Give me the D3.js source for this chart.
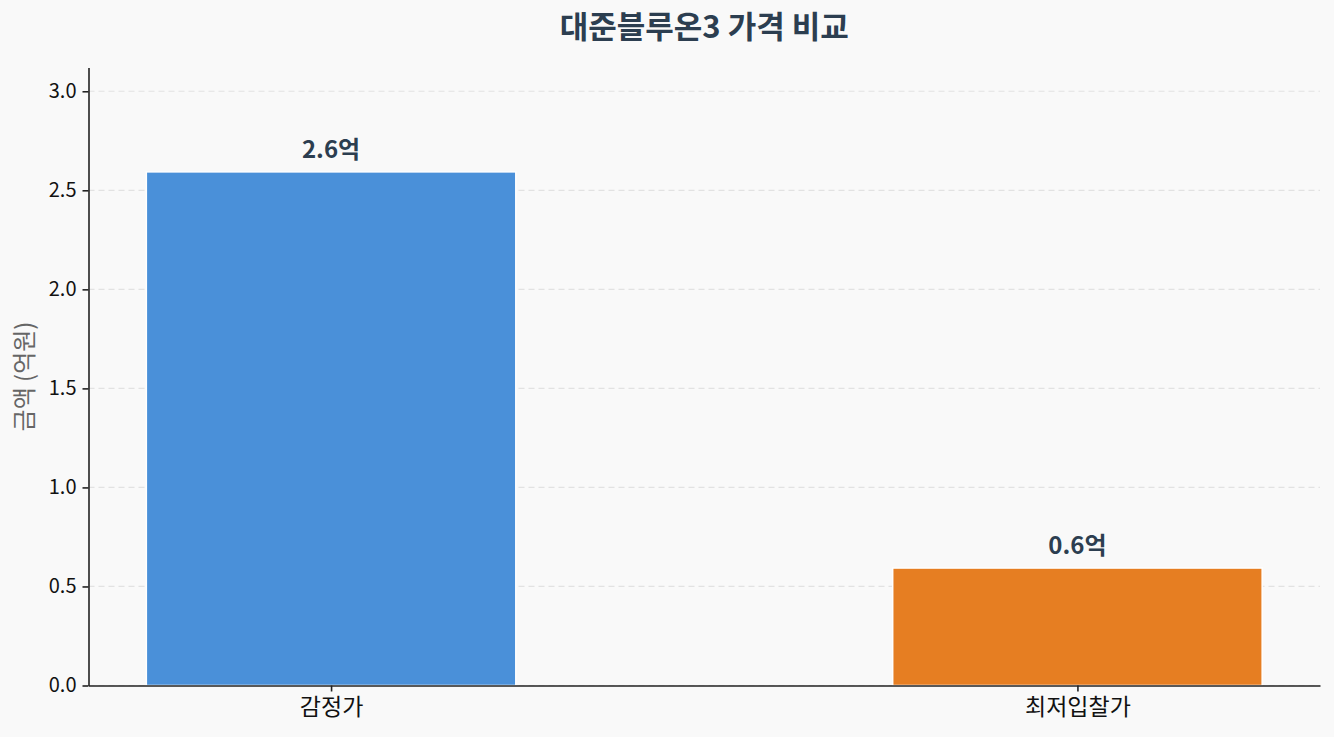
<!DOCTYPE html>
<html>
<head>
<meta charset="utf-8">
<script src="https://cdn.jsdelivr.net/npm/d3@7"></script>
<style>
  body { margin: 0; background: #f9f9f9; }
  svg { display: block; font-family: "Noto Sans CJK KR", "Noto Sans", sans-serif; }
</style>
</head>
<body>
<script>
// chart data
var categories = ["감정가", "최저입찰가"];
var values = [2.593, 0.593];
var valueLabels = ["2.6억", "0.6억"];
var barColors = ["#4a90d9", "#e67e22"];
var yTicks = [0, 0.5, 1.0, 1.5, 2.0, 2.5, 3.0];
var title = "대준블루온3 가격 비교";
var yLabel = "금액 (억원)";

var W = 1334, H = 737;
var margin = { top: 67.5, right: 14, bottom: 51.5, left: 88.5 };
var width = W - margin.left - margin.right;
var height = H - margin.top - margin.bottom;

var x = d3.scaleLinear()
    .domain([-0.325, 1.325])
    .range([0, width]);
var y = d3.scaleLinear()
    .domain([0, 3.12])
    .range([height, 0]);

var svg = d3.select("body")
    .append("svg")
    .attr("width", W)
    .attr("height", H);

svg.append("rect")
    .attr("width", W)
    .attr("height", H)
    .attr("fill", "#f9f9f9");

var main = svg.append("g")
    .attr("transform", "translate(" + margin.left + "," + margin.top + ")");

// grid lines
main.append("g")
    .selectAll("line")
    .data(yTicks)
    .enter().append("line")
    .attr("x1", 0)
    .attr("x2", width)
    .attr("y1", function (d) { return y(d); })
    .attr("y2", function (d) { return y(d); })
    .attr("stroke", "#e2e2e2")
    .attr("stroke-width", 1.2)
    .attr("stroke-dasharray", "6,4");

// bars
var barW = 0.495;
main.append("g")
    .selectAll("rect")
    .data(values)
    .enter().append("rect")
    .attr("x", function (d, i) { return x(i - barW / 2); })
    .attr("y", function (d) { return y(d); })
    .attr("width", x(barW) - x(0))
    .attr("height", function (d) { return y(0) - y(d); })
    .attr("fill", function (d, i) { return barColors[i]; })
    .attr("stroke", "#ffffff")
    .attr("stroke-width", 1.5);

// value labels
main.append("g")
    .selectAll("text")
    .data(values)
    .enter().append("text")
    .attr("x", function (d, i) { return x(i); })
    .attr("y", function (d) { return y(d) - 14; })
    .attr("text-anchor", "middle")
    .attr("font-size", 24)
    .attr("font-weight", "bold")
    .attr("fill", "#2c3e50")
    .text(function (d, i) { return valueLabels[i]; });

// axes
var yAxis = d3.axisLeft(y)
    .tickValues(yTicks)
    .tickFormat(d3.format(".1f"))
    .tickSizeInner(6)
    .tickSizeOuter(0)
    .tickPadding(6);
var yg = main.append("g").call(yAxis);

var xAxis = d3.axisBottom(x)
    .tickValues([0, 1])
    .tickFormat(function (d) { return categories[d]; })
    .tickSizeInner(6)
    .tickSizeOuter(0)
    .tickPadding(7);
var xg = main.append("g")
    .attr("transform", "translate(0," + height + ")")
    .call(xAxis);

[yg, xg].forEach(function (g) {
    g.select(".domain").attr("stroke", "#222").attr("stroke-width", 1.6);
    g.selectAll(".tick line").attr("stroke", "#222").attr("stroke-width", 1.6);
    g.selectAll(".tick text").attr("fill", "#111").attr("font-family", "Noto Sans CJK KR");
});
yg.selectAll(".tick text").attr("font-size", 20);
xg.selectAll(".tick text").attr("font-size", 23);

// y label
svg.append("text")
    .attr("transform", "translate(33," + (margin.top + height / 2) + ") rotate(-90)")
    .attr("text-anchor", "middle")
    .attr("font-size", 24)
    .attr("fill", "#666")
    .text(yLabel);

// title
svg.append("text")
    .attr("x", (margin.left + W - margin.right) / 2)
    .attr("y", 38)
    .attr("text-anchor", "middle")
    .attr("font-size", 31)
    .attr("font-weight", "bold")
    .attr("fill", "#2c3e50")
    .text(title);
</script>
</body>
</html>
